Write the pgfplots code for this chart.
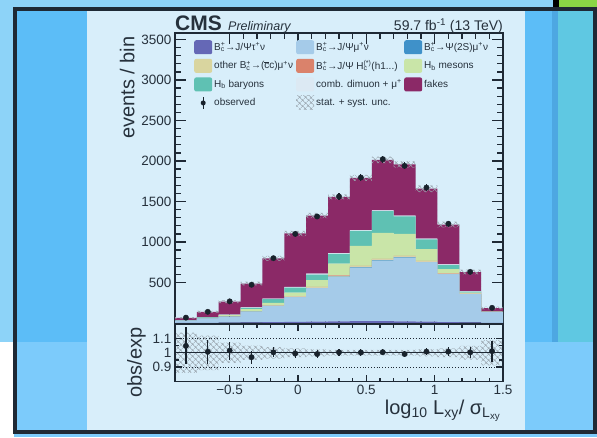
\documentclass[border=0pt]{standalone}
\usepackage{fontspec}
\setmainfont{Liberation Sans}
\usepackage{pgfplots}
\pgfplotsset{compat=1.18}
\usepackage{pgfplotstable}
\usetikzlibrary{patterns.meta}

\definecolor{framecol}{HTML}{1E2935}
\definecolor{txtcol}{HTML}{26313C}
\definecolor{panelcol}{HTML}{D8EEFA}
\definecolor{bgblue}{HTML}{5CBDF7}
\definecolor{bglight}{HTML}{7CCBFB}
\definecolor{bgtop}{HTML}{8DD3F8}
\definecolor{bgdark}{HTML}{4DA7E2}
\definecolor{bgteal}{HTML}{5FC8E2}
\definecolor{bggreen}{HTML}{8AD645}
\definecolor{tauc}{HTML}{6568B6}
\definecolor{muc}{HTML}{A5CBE9}
\definecolor{psic}{HTML}{3F91C9}
\definecolor{othc}{HTML}{D9D59F}
\definecolor{hcc}{HTML}{DA826B}
\definecolor{hbmc}{HTML}{C9E5A8}
\definecolor{hbbc}{HTML}{5FC1B3}
\definecolor{combc}{HTML}{DCE9F3}
\definecolor{fakec}{HTML}{8B2967}
\definecolor{hatchcol}{HTML}{9AA5AE}
\definecolor{obscol}{HTML}{18222C}

\newcommand{\subsup}[2]{\rlap{\textsubscript{#1}}\textsuperscript{#2}}
\newcommand{\Bc}{B\subsup{c}{+}}

\tikzset{hatched/.style={pattern={Hatch[angle=45, distance=4pt, line width=0.6pt]},
    pattern color=hatchcol, draw=none}}

% expected yields per bin (left bin edge; last row closes the final bin)
% lo/band: lower edge and full width of the total uncertainty; rlo/rband: same, relative
\pgfplotstableread{
x     tau mu  psi oth hc hbm hbb comb fake lo   band rlo   rband
-0.90 2   28  1   1   0  2   1   1    27   54   18   0.86  0.28
-0.74 3   52  1   1   1  5   5   2    67   121  32   0.88  0.24
-0.58 5   71  2   2   1  15  5   3    159  245  36   0.93  0.14
-0.42 8   129 2   3   2  26  17  5    295  463  48   0.95  0.10
-0.26 12  195 3   5   3  30  46  7    497  766  64   0.96  0.08
-0.10 15  300 4   7   4  46  62  9    658  1072 66   0.97  0.06
0.06  18  408 5   9   5  83  70  10   719  1294 66   0.975 0.05
0.22  20  545 6   10  6  147 120 10   693  1526 62   0.98  0.04
0.38  22  658 6   12  7  247 185 10   645  1756 72   0.98  0.04
0.54  22  745 6   12  7  321 267 10   624  1974 80   0.98  0.04
0.70  20  784 6   12  7  272 214 10   633  1919 78   0.98  0.04
0.86  17  730 5   10  6  144 120 9    617  1617 82   0.975 0.05
1.02  12  587 4   8   5  50  49  8    492  1179 72   0.97  0.06
1.18  7   349 2   5   3  10  12  6    235  599  60   0.953 0.094
1.34  3   132 1   2   1  1   2   3    40   169  32   0.912 0.176
1.50  3   132 1   2   1  1   2   3    40   169  32   0.912 0.176
}\bins

% observed counts at bin centres, and observed/expected
\pgfplotstableread{
x     obs  err  ratio rerr
-0.82 66   8.1  1.048 0.129
-0.66 138  11.7 1.007 0.085
-0.50 267  16.3 1.015 0.062
-0.34 472  21.7 0.969 0.045
-0.18 800  28.3 1.003 0.035
-0.02 1100 33.2 0.995 0.030
0.14  1315 36.3 0.991 0.027
0.30  1562 39.5 1.003 0.025
0.46  1795 42.4 1.002 0.024
0.62  2022 45.0 1.004 0.022
0.78  1940 44.0 0.991 0.022
0.94  1672 40.9 1.008 0.025
1.10  1225 35.0 1.008 0.029
1.26  631  25.1 1.003 0.040
1.42  187  13.7 1.011 0.074
}\data

\pgfplotsset{
  cmsaxis/.style={
    scale only axis, anchor=south west,
    width=328pt, xmin=-0.9, xmax=1.5,
    xtick={-0.5,0,0.5,1,1.5}, minor x tick num=4,
    tick pos=both, tick align=inside,
    axis line style={line width=1.6pt, draw=framecol},
    every tick/.style={line width=1.3pt, draw=framecol},
    tick label style={font=\fontsize{13.5}{16}\selectfont, text=txtcol},
    label style={font=\fontsize{20}{24}\selectfont, text=txtcol},
  },
  layer/.style={
    scale only axis, anchor=south west, hide axis,
    width=328pt, xmin=-0.9, xmax=1.5,
  },
  stk/.style={fill=#1, draw=none},
  obsmarks/.style={only marks, mark=*, mark size=2.7pt, color=obscol,
    error bars/.cd, y dir=both, y explicit, error mark=none,
    error bar style={line width=1.2pt, obscol}},
}

\begin{document}
\begin{tikzpicture}
\useasboundingbox (0pt,0pt) rectangle (597pt,437pt);
% surrounding backdrop
\fill[bgblue] (0pt,0pt) rectangle (597pt,437pt);
\fill[bgtop] (0pt,429pt) rectangle (553pt,437pt);
\fill[black] (553pt,429pt) rectangle (559pt,437pt);
\fill[bggreen] (559pt,429pt) rectangle (597pt,437pt);
\fill[bgtop] (0pt,95pt) rectangle (14pt,429pt);
\fill[white] (0pt,0pt) rectangle (14pt,95pt);
\fill[bglight] (14pt,0pt) rectangle (597pt,95pt);
\fill[bgdark] (552pt,95pt) rectangle (558pt,427pt);
\fill[bgteal] (558pt,95pt) rectangle (595pt,427pt);
\fill[panelcol] (87pt,7pt) rectangle (525pt,427pt);
\draw[framecol, line width=4pt] (15pt,5pt) rectangle (595pt,428pt);

% stacked expectation
\begin{axis}[cmsaxis,
  at={(175pt,114pt)}, height=290pt,
  ymin=0, ymax=3580,
  stack plots=y, const plot mark left,
  xticklabels={},
  ytick={500,1000,1500,2000,2500,3000,3500},
  yticklabels={500,1000,1500,2000,2500,3000,3500},
  minor y tick num=4,
  major tick length=11pt, minor tick length=6pt,
  ylabel={events / bin},
  ylabel style={at={(ticklabel cs:1)}, anchor=south east},
  legend columns=3, legend cell align=left,
  legend image code/.code={\fill[#1, rounded corners=2pt] (0pt,-7pt) rectangle (18pt,7pt);},
  legend style={at={(axis description cs:0.0586,0.975)}, anchor=north west,
    draw=none, fill=none, inner sep=0pt, outer sep=0pt,
    column sep=0pt, row sep=4.5pt,
    font=\fontsize{10}{12}\selectfont, text=txtcol},
]
\addplot[stk=tauc] table[x=x, y=tau]{\bins} \closedcycle;
\addlegendentry{\makebox[80pt][l]{\Bc→J/Ψτ\textsuperscript{+}ν}}
\addplot[stk=muc] table[x=x, y=mu]{\bins} \closedcycle;
\addlegendentry{\makebox[86pt][l]{\Bc→J/Ψμ\textsuperscript{+}ν}}
\addplot[stk=psic] table[x=x, y=psi]{\bins} \closedcycle;
\addlegendentry{\Bc→Ψ(2S)μ\textsuperscript{+}ν}
\addplot[stk=othc] table[x=x, y=oth]{\bins} \closedcycle;
\addlegendentry{\makebox[80pt][l]{other \Bc→($\overline{\hbox{c}}$c)μ\textsuperscript{+}ν}}
\addplot[stk=hcc] table[x=x, y=hc]{\bins} \closedcycle;
\addlegendentry{\makebox[86pt][l]{\Bc→J/Ψ H\subsup{c}{(*)}(h1...)}}
\addplot[stk=hbmc] table[x=x, y=hbm]{\bins} \closedcycle;
\addlegendentry{H\textsubscript{b} mesons}
\addplot[stk=hbbc] table[x=x, y=hbb]{\bins} \closedcycle;
\addlegendentry{\makebox[80pt][l]{H\textsubscript{b} baryons}}
\addplot[stk=combc] table[x=x, y=comb]{\bins} \closedcycle;
\addlegendentry{\makebox[86pt][l]{comb. dimuon + μ\textsuperscript{+}}}
\addplot[stk=fakec] table[x=x, y=fake]{\bins} \closedcycle;
\addlegendentry{fakes}
\addlegendimage{legend image code/.code={%
  \path[draw=none, fill=none] (0pt,-7pt) rectangle (18pt,7pt);
  \draw[obscol, line width=1.2pt] (9pt,-6pt) -- (9pt,6pt);
  \fill[obscol, draw=none] (9pt,0pt) circle (2.5pt);}}
\addlegendentry{\makebox[80pt][l]{observed}}
\addlegendimage{legend image code/.code={%
  \fill[hatched] (0pt,-7pt) rectangle (18pt,7pt);}}
\addlegendentry{stat. + syst. unc.}
\end{axis}

% total uncertainty band on the expectation
\begin{axis}[layer, at={(175pt,114pt)}, height=290pt, ymin=0, ymax=3580,
  stack plots=y, const plot mark left]
\addplot[draw=none] table[x=x, y=lo]{\bins};
\addplot[hatched] table[x=x, y=band]{\bins} \closedcycle;
\end{axis}

% observed counts
\begin{axis}[layer, at={(175pt,114pt)}, height=290pt, ymin=0, ymax=3580]
\addplot[obsmarks] table[x=x, y=obs, y error=err]{\data};
\end{axis}

% relative uncertainty band in the ratio panel
\begin{axis}[layer, at={(175pt,55.5pt)}, height=57.5pt, ymin=0.8, ymax=1.2,
  stack plots=y, const plot mark left]
\addplot[draw=none] table[x=x, y=rlo]{\bins};
\addplot[hatched] table[x=x, y=rband]{\bins} \closedcycle;
\end{axis}

% ratio panel
\begin{axis}[cmsaxis,
  at={(175pt,55.5pt)}, height=57.5pt,
  ymin=0.8, ymax=1.2,
  xticklabels={−0.5,0,0.5,1,1.5},
  ytick={0.9,1,1.1}, yticklabels={0.9,1,1.1},
  minor y tick num=1,
  major tick length=7pt, minor tick length=4pt,
  ylabel={obs/exp},
  ylabel style={at={(ticklabel cs:1)}, anchor=south east},
  xlabel={log\textsubscript{10} L\textsubscript{xy}/ σ\textsubscript{L\textsubscript{xy}}},
  xlabel style={at={(ticklabel cs:1)}, anchor=north east, inner sep=2pt},
]
\addplot[framecol, line width=1.2pt] coordinates {(-0.9,1) (1.5,1)};
\addplot[framecol, dotted, line width=0.8pt] coordinates {(-0.9,0.9) (1.5,0.9)};
\addplot[framecol, dotted, line width=0.8pt] coordinates {(-0.9,1.1) (1.5,1.1)};
\addplot[obsmarks] table[x=x, y=ratio, y error=rerr]{\data};
\end{axis}

\node[anchor=base west, inner sep=0pt, text=txtcol, font=\bfseries\fontsize{21}{24}\selectfont] at (175pt,406pt) {CMS};
\node[anchor=base west, inner sep=0pt, text=txtcol, font=\itshape\fontsize{12.5}{14}\selectfont] at (228pt,406pt) {Preliminary};
\node[anchor=base east, inner sep=0pt, text=txtcol, font=\fontsize{14}{16}\selectfont] at (503pt,406pt) {59.7 fb\textsuperscript{-1} (13 TeV)};
\end{tikzpicture}
\end{document}
